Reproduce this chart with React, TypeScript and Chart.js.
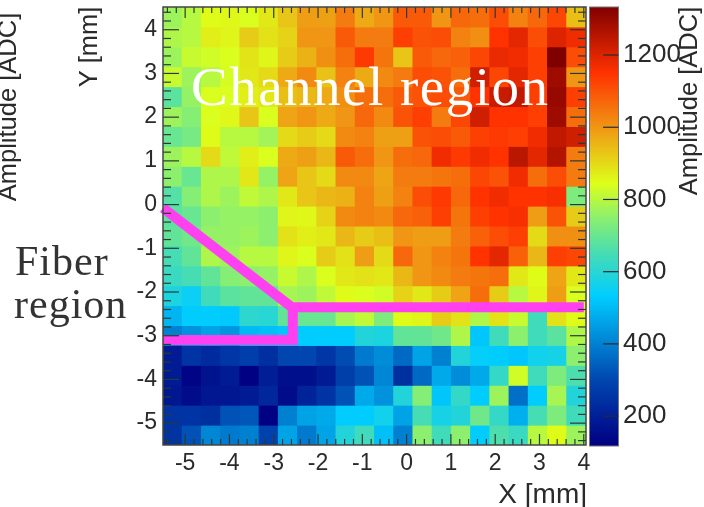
import React, { useEffect, useRef } from "react";
import { Chart, registerables } from "chart.js";

Chart.register(...registerables);

const row00 = [770, 800, 850, 855, 840, 880, 930, 990, 985, 1040, 970, 1000, 1090, 1090, 1000, 1070, 1060, 1110, 1030, 1070, 1120, 940];
const row01 = [790, 800, 870, 860, 920, 890, 910, 1000, 1000, 1090, 1040, 1040, 1130, 1100, 1110, 1030, 1010, 1150, 1190, 1110, 1200, 1170];
const row02 = [770, 820, 830, 840, 885, 860, 920, 960, 1010, 1060, 1140, 1050, 930, 1090, 1070, 1080, 1120, 1180, 1170, 1130, 1333, 1110];
const row03 = [820, 770, 800, 835, 880, 900, 970, 1020, 935, 1030, 970, 1020, 1040, 1110, 1100, 1060, 1220, 1120, 1190, 1130, 1290, 1000];
const row04 = [680, 760, 840, 840, 870, 880, 940, 950, 970, 1010, 1060, 1060, 1090, 1100, 1110, 1090, 1150, 1230, 1240, 1130, 1300, 1130];
const row05 = [770, 740, 840, 855, 930, 840, 980, 1000, 970, 1000, 1070, 1020, 1100, 1130, 1040, 1120, 1220, 1150, 1150, 1130, 1290, 1060];
const row06 = [700, 720, 850, 800, 800, 775, 900, 920, 900, 1020, 1030, 985, 985, 1100, 1110, 1090, 1130, 1140, 1130, 1170, 1240, 1220];
const row07 = [770, 800, 900, 810, 870, 840, 970, 985, 950, 1090, 1060, 1000, 1060, 1070, 1170, 1140, 1170, 1150, 1250, 1190, 1260, 1040];
const row08 = [750, 700, 790, 790, 880, 760, 980, 930, 900, 1020, 1020, 980, 1040, 1040, 1050, 1060, 1120, 1100, 1170, 1060, 1110, 1040];
const row09 = [670, 740, 790, 770, 810, 790, 880, 930, 950, 960, 1030, 985, 1030, 1110, 1140, 1070, 1150, 1170, 1150, 1150, 1160, 730];
const row10 = [680, 700, 750, 760, 760, 750, 860, 855, 910, 1020, 1030, 1020, 1070, 1080, 1130, 1050, 1130, 1150, 1160, 990, 1100, 920];
const row11 = [690, 710, 760, 760, 770, 750, 890, 870, 880, 950, 920, 940, 1000, 990, 990, 1040, 1080, 1110, 1130, 900, 1010, 1010];
const row12 = [650, 690, 790, 770, 800, 800, 860, 840, 920, 890, 990, 900, 1070, 1000, 1030, 1050, 1150, 1190, 1080, 950, 1130, 1120];
const row13 = [630, 650, 690, 740, 750, 760, 820, 790, 840, 880, 890, 880, 950, 1000, 1020, 1040, 1050, 1060, 880, 850, 980, 880];
const row14 = [580, 550, 640, 680, 690, 690, 780, 770, 810, 850, 840, 830, 910, 880, 920, 980, 1060, 920, 800, 860, 990, 840];
const row15 = [490, 530, 530, 525, 610, 600, 690, 700, 700, 780, 810, 730, 850, 860, 920, 890, 790, 890, 820, 640, 890, 850];
const row16 = [400, 430, 460, 440, 500, 510, 520, 530, 530, 530, 590, 580, 690, 690, 710, 790, 520, 640, 750, 640, 680, 790];
const row17 = [190, 250, 230, 260, 280, 240, 300, 300, 260, 310, 390, 420, 360, 460, 400, 590, 540, 530, 520, 560, 570, 750];
const row18 = [190, 130, 170, 190, 125, 200, 160, 160, 190, 280, 320, 410, 240, 360, 470, 420, 470, 620, 830, 640, 730, 660];
const row19 = [180, 150, 180, 180, 190, 220, 150, 210, 250, 320, 470, 430, 590, 740, 520, 620, 530, 770, 370, 530, 780, 590];
const row20 = [250, 250, 240, 320, 330, 125, 400, 460, 470, 530, 530, 560, 460, 650, 570, 590, 710, 620, 480, 650, 730, 640];
const row21 = [250, 320, 410, 390, 400, 290, 460, 390, 460, 590, 640, 510, 400, 750, 640, 750, 530, 660, 630, 800, 850, 770];
const rows = [row00, row01, row02, row03, row04, row05, row06, row07, row08, row09, row10, row11, row12, row13, row14, row15, row16, row17, row18, row19, row20, row21];

const xRange = [-5.5, 4.05];
const yRange = [-5.5, 4.52];
const ampRange = [120, 1333];
const xTicks = [-5, -4, -3, -2, -1, 0, 1, 2, 3, 4];
const yTicks = [-5, -4, -3, -2, -1, 0, 1, 2, 3, 4];
const ampTicks = [200, 400, 600, 800, 1000, 1200];

const upperBoundary = [{ x: -5.5, y: -0.08 }, { x: -2.59, y: -2.35 }, { x: 4.0, y: -2.35 }];
const lowerBoundary = [{ x: -2.57, y: -2.35 }, { x: -2.57, y: -3.1 }, { x: -5.5, y: -3.1 }];

const paletteStops: [number, number[]][] = [
  [120, [0, 0, 130]],
  [300, [0, 70, 175]],
  [532, [0, 205, 255]],
  [650, [70, 220, 180]],
  [750, [140, 240, 110]],
  [845, [222, 255, 25]],
  [1000, [240, 150, 20]],
  [1150, [255, 50, 0]],
  [1333, [128, 0, 0]],
];

function colorFor(v: number): string {
  for (let i = 1; i < paletteStops.length; i++) {
    const [v1, c1] = paletteStops[i];
    const [v0, c0] = paletteStops[i - 1];
    if (v <= v1) {
      const t = Math.max(0, (v - v0) / (v1 - v0));
      const m = c0.map((c, k) => Math.round(c + (c1[k] - c) * t));
      return `rgb(${m[0]},${m[1]},${m[2]})`;
    }
  }
  return "rgb(128,0,0)";
}

const SANS = '"Liberation Sans", Arial, sans-serif';
const SERIF = '"Liberation Serif", serif';
const INK = "#2a2a2a";

const noPad = (s: any) => {
  s.paddingTop = 0; s.paddingBottom = 0; s.paddingLeft = 0; s.paddingRight = 0;
};

const decor = {
  id: "decor",
  afterDatasetsDraw(chart: any) {
    const { ctx, chartArea: a, scales } = chart;
    const x = scales.x, y = scales.y, cb = scales.cb;
    ctx.save();
    ctx.strokeStyle = "#2b3a33";
    ctx.lineWidth = 1.2;
    const line = (x0: number, y0: number, x1: number, y1: number) => {
      ctx.beginPath(); ctx.moveTo(x0, y0); ctx.lineTo(x1, y1); ctx.stroke();
    };
    for (let i = -54; i <= 40; i += 2) {
      const v = i / 10;
      const major = i % 10 === 0;
      const px = x.getPixelForValue(v);
      const len = major ? 11 : 6;
      line(px, a.bottom, px, a.bottom - len);
      line(px, a.top, px, a.top + len);
    }
    for (let i = -54; i <= 44; i += 2) {
      const v = i / 10;
      const major = i % 10 === 0;
      const py = y.getPixelForValue(v);
      const len = major ? 16 : 8;
      line(a.left, py, a.left + len, py);
      line(a.right, py, a.right - len, py);
    }
    ctx.strokeStyle = "#444";
    ctx.lineWidth = 1.5;
    ctx.strokeRect(a.left, a.top, a.right - a.left, a.bottom - a.top);

    // colour bar
    const barL = 589.5, barR = 618.5;
    const g = ctx.createLinearGradient(0, cb.getPixelForValue(ampRange[0]), 0, cb.getPixelForValue(ampRange[1]));
    paletteStops.forEach(([v, c]) => {
      g.addColorStop((v - ampRange[0]) / (ampRange[1] - ampRange[0]), `rgb(${c[0]},${c[1]},${c[2]})`);
    });
    ctx.fillStyle = g;
    ctx.fillRect(barL, a.top, barR - barL, a.bottom - a.top + 1);
    ctx.strokeStyle = "#777";
    ctx.lineWidth = 1;
    ctx.strokeRect(barL, a.top, barR - barL, a.bottom - a.top + 1);
    ctx.strokeStyle = "#2b2b2b";
    ctx.lineWidth = 1.2;
    ampTicks.forEach((v) => {
      const py = cb.getPixelForValue(v);
      line(603, py, barR, py);
    });

    // titles and region labels
    ctx.fillStyle = INK;
    ctx.font = `25.5px ${SANS}`;
    ctx.textBaseline = "alphabetic";
    ctx.textAlign = "center";
    const vert = (t: string, bx: number, cy: number) => {
      ctx.save(); ctx.translate(bx, cy); ctx.rotate(-Math.PI / 2); ctx.fillText(t, 0, 0); ctx.restore();
    };
    vert("Amplitude [ADC]", 15.5, 107);
    vert("Y [mm]", 97, 47);
    vert("Amplitude [ADC]", 697, 101);
    ctx.textAlign = "right";
    ctx.font = `28px ${SANS}`;
    ctx.fillText("X [mm]", 587, 503);

    ctx.textAlign = "left";
    ctx.fillStyle = "#ffffff";
    ctx.font = `55px ${SERIF}`;
    (ctx as any).letterSpacing = "1.5px";
    ctx.fillText("Channel region", 191, 105);
    ctx.fillStyle = "#333333";
    ctx.font = `42px ${SERIF}`;
    (ctx as any).letterSpacing = "1px";
    ctx.fillText("Fiber", 15, 275);
    ctx.fillText("region", 14, 318);
    (ctx as any).letterSpacing = "0px";
    ctx.restore();
  },
};

export default function App() {
  const ref = useRef<HTMLCanvasElement>(null);
  useEffect(() => {
    if (!ref.current) return;
    const xStep = (xRange[1] - xRange[0]) / 22;
    const yStep = (yRange[1] - yRange[0]) / 22;
    const cellSets: any[] = rows.map((vals, r) => ({
      type: "bar",
      grouped: false,
      order: 2,
      barPercentage: 1,
      categoryPercentage: 1,
      inflateAmount: 0.5,
      borderWidth: 0,
      backgroundColor: vals.map(colorFor),
      data: vals.map((_, c) => ({
        x: xRange[0] + (c + 0.5) * xStep,
        y: [yRange[1] - (r + 1) * yStep, yRange[1] - r * yStep],
      })),
    }));
    const pink = (data: { x: number; y: number }[]) => ({
      type: "line",
      order: 1,
      data,
      borderColor: "#ff40f0",
      borderWidth: 10,
      pointRadius: 0,
      tension: 0,
      clip: false,
      borderJoinStyle: "miter",
      borderCapStyle: "butt",
    });
    const tickFont = (size: number) => ({ family: SANS, size });
    const noGrid = { display: false, drawTicks: false };
    const chart = new Chart(ref.current, {
      type: "bar",
      data: { datasets: [...cellSets, pink(upperBoundary), pink(lowerBoundary)] },
      plugins: [decor],
      options: {
        animation: false,
        responsive: false,
        layout: { autoPadding: false, padding: { top: 7, left: 0, right: 0, bottom: 0 } },
        plugins: { legend: { display: false }, tooltip: { enabled: false } },
        scales: {
          x: {
            type: "linear",
            offset: false,
            min: xRange[0],
            max: xRange[1],
            grid: noGrid,
            border: { display: false },
            afterBuildTicks: (s: any) => { s.ticks = xTicks.map((value) => ({ value })); },
            afterFit: (s: any) => { s.height = 62; noPad(s); },
            ticks: { font: tickFont(23), color: INK, padding: 5, maxRotation: 0, autoSkip: false, callback: (v: any) => String(v) },
          },
          y: {
            type: "linear",
            position: "left",
            min: yRange[0],
            max: yRange[1],
            grid: noGrid,
            border: { display: false },
            afterBuildTicks: (s: any) => { s.ticks = yTicks.map((value) => ({ value })); },
            afterFit: (s: any) => { s.width = 163; noPad(s); },
            ticks: { font: tickFont(23), color: INK, padding: 6, autoSkip: false, callback: (v: any) => String(v) },
          },
          cb: {
            type: "linear",
            position: "right",
            min: ampRange[0],
            max: ampRange[1],
            grid: noGrid,
            border: { display: false },
            afterBuildTicks: (s: any) => { s.ticks = ampTicks.map((value) => ({ value })); },
            afterFit: (s: any) => { s.width = 118; noPad(s); },
            ticks: { font: tickFont(26), color: INK, padding: 37, autoSkip: false, callback: (v: any) => String(v) },
          },
        },
      },
    } as any);
    return () => chart.destroy();
  }, []);
  return (
    <canvas
      ref={ref}
      width={704}
      height={507}
      style={{ position: "fixed", left: 0, top: 0, filter: "blur(0.6px)" }}
    />
  );
}
